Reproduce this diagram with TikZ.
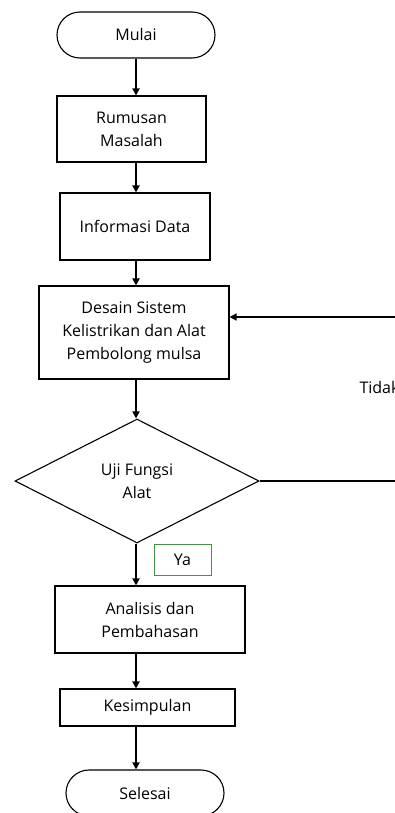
\documentclass[tikz,border=0pt]{standalone}
\usepackage{fontspec}
\setmainfont{Open Sans}
\usepackage{tikz}
\usetikzlibrary{arrows.meta,shapes.geometric,positioning}

\begin{document}
\begin{tikzpicture}[x=1pt,y=-1pt,every node/.style={font=\fontsize{16}{23}\selectfont, align=center}]
		\tikzstyle{terminal}=[draw, line width=1.1pt, rounded corners=23pt, minimum width=158pt, minimum height=46pt, inner sep=0pt]
		\tikzstyle{process}=[draw, line width=1.1pt, inner sep=0pt]
		\tikzstyle{decision}=[draw, line width=1.1pt, diamond, aspect=2, inner sep=0pt, minimum width=244pt, minimum height=124pt]
		\tikzstyle{flow}=[line width=1.8pt, -{Triangle[length=7pt,width=7pt]}]
		\tikzstyle{back}=[line width=1.4pt]
		\definecolor{yagreen}{RGB}{70,145,70}
		
		\useasboundingbox (0,0) rectangle (395,813);
		
		\node[terminal] 										(mulai)  at (136,35)    {Mulai};
		\node[process, minimum width=149pt, minimum height=66pt] (rumusan) at (131.5,129) {Rumusan\\Masalah};
		\node[process, minimum width=150pt, minimum height=67pt] (info)   at (135,226.5) {Informasi Data};
		\node[process, minimum width=190pt, minimum height=93pt] (desain) at (134,332.5) {Desain Sistem\\Kelistrikan dan Alat\\Pembolong mulsa};
		\node[decision] 										(uji)    at (137,481)   {Uji Fungsi\\Alat};
		\node[draw=yagreen, line width=0.9pt, minimum width=57pt, minimum height=31pt, inner sep=0pt] (ya) at (182.5,559.5) {Ya};
		\node[process, minimum width=190pt, minimum height=67pt] (analisis) at (150,619.5) {Analisis dan\\Pembahasan};
		\node[process, minimum width=175pt, minimum height=37pt] (kesimpulan) at (147.5,707.5) {Kesimpulan};
		\node[terminal] 										(selesai) at (145,793)  {Selesai};
		\node[anchor=west] 									(tidak)  at (356,387)   {Tidak};
		
		\coordinate (kanan) at (402,481);
		
		\draw[flow] (mulai.south) -- (rumusan.north -| mulai.south);
		\draw[flow] (rumusan.south -| mulai.south) -- (info.north -| mulai.south);
		\draw[flow] (info.south -| mulai.south) -- (desain.north -| mulai.south);
		\draw[flow] (desain.south -| mulai.south) -- (uji.north -| mulai.south);
		\draw[flow] (uji.south -| mulai.south) -- (analisis.north -| mulai.south);
		\draw[flow] (analisis.south -| mulai.south) -- (kesimpulan.north -| mulai.south);
		\draw[flow] (kesimpulan.south -| mulai.south) -- (selesai.north -| mulai.south);
		\draw[back] (uji.east) -- (kanan);
		\draw[flow, line width=1.4pt] (kanan) |- ([yshift=15.5pt]desain.east);
		\end{tikzpicture}
\end{document}
